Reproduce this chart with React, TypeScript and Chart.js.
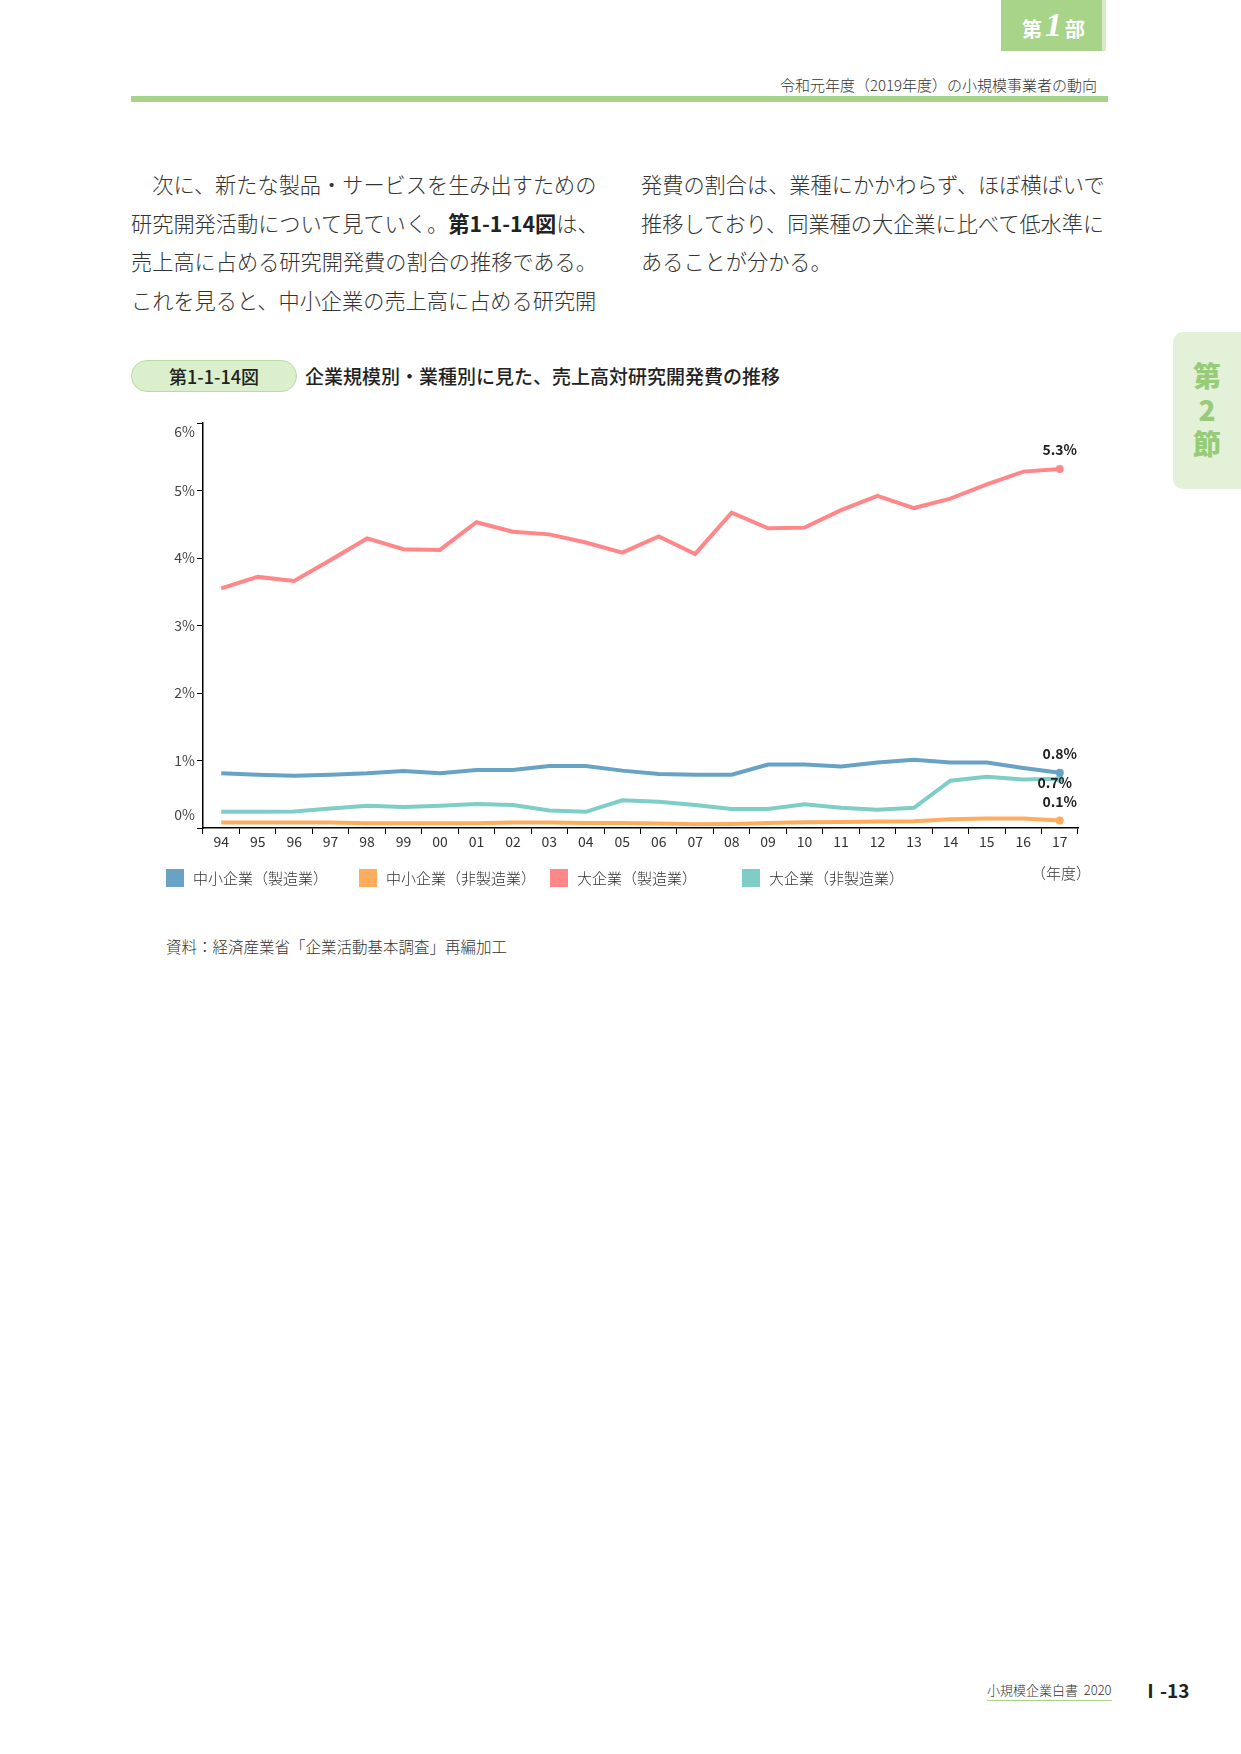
import React, { useEffect, useRef } from "react";
import { Chart, registerables } from "chart.js";

Chart.register(...registerables);

const FONT = '"Noto Sans CJK JP", "Noto Sans", sans-serif';

const years = ["94", "95", "96", "97", "98", "99", "00", "01", "02", "03", "04", "05", "06", "07", "08", "09", "10", "11", "12", "13", "14", "15", "16", "17"];
const smeMfg = [0.81, 0.79, 0.775, 0.79, 0.81, 0.845, 0.81, 0.86, 0.86, 0.92, 0.92, 0.85, 0.8, 0.79, 0.79, 0.94, 0.94, 0.91, 0.97, 1.01, 0.97, 0.97, 0.89, 0.82];
const smeNonMfg = [0.08, 0.08, 0.08, 0.08, 0.07, 0.07, 0.07, 0.07, 0.08, 0.08, 0.075, 0.075, 0.065, 0.055, 0.06, 0.075, 0.085, 0.09, 0.095, 0.1, 0.13, 0.14, 0.14, 0.11];
const largeMfg = [3.55, 3.72, 3.66, 3.97, 4.29, 4.13, 4.12, 4.53, 4.39, 4.35, 4.23, 4.08, 4.32, 4.06, 4.67, 4.44, 4.45, 4.71, 4.92, 4.74, 4.88, 5.09, 5.28, 5.32];
const largeNonMfg = [0.24, 0.24, 0.245, 0.29, 0.33, 0.31, 0.33, 0.355, 0.34, 0.26, 0.24, 0.41, 0.39, 0.34, 0.28, 0.28, 0.35, 0.3, 0.27, 0.3, 0.7, 0.76, 0.72, 0.73];
const seriesNames = ["中小企業（製造業）", "中小企業（非製造業）", "大企業（製造業）", "大企業（非製造業）"];
const endLabels = ["0.8%", "0.1%", "5.3%", "0.7%"];
const yTicks = [0, 1, 2, 3, 4, 5, 6];

const COLORS = ["#68a2c5", "#ffad5c", "#ff878a", "#7ecdc7"];

const customLabels = {
  id: "customLabels",
  afterDraw(chart: any) {
    const ctx = chart.ctx;
    const ys = chart.scales.y;
    ctx.save();
    ctx.font = `14px ${FONT}`;
    ctx.fillStyle = "#444";
    ctx.textAlign = "right";
    ctx.textBaseline = "middle";
    yTicks.forEach((v) => {
      let py = ys.getPixelForValue(v);
      if (v === yTicks[yTicks.length - 1]) py += 9;
      if (v === yTicks[0]) py -= 13;
      ctx.fillText(v + "%", chart.chartArea.left - 8, py);
    });
    const offsets = [
      [0, -19],
      [0, -19],
      [0, -19],
      [-5, 4],
    ];
    ctx.font = `bold 14px ${FONT}`;
    ctx.fillStyle = "#222";
    ctx.textAlign = "center";
    chart.data.datasets.forEach((_ds: any, i: number) => {
      const meta = chart.getDatasetMeta(i);
      const pt = meta.data[meta.data.length - 1];
      ctx.fillText(endLabels[i], pt.x + offsets[i][0], pt.y + offsets[i][1]);
    });
    ctx.restore();
  },
};

function LineChart() {
  const ref = useRef<HTMLCanvasElement | null>(null);
  useEffect(() => {
    if (!ref.current) return;
    const series = [smeMfg, smeNonMfg, largeMfg, largeNonMfg];
    const last = years.length - 1;
    const chart = new Chart(ref.current, {
      type: "line",
      data: {
        labels: years,
        datasets: series.map((d, i) => ({
          label: seriesNames[i],
          data: d,
          borderColor: COLORS[i],
          backgroundColor: COLORS[i],
          borderWidth: 4,
          tension: 0,
          pointRadius: d.map((_, j) => (j === last ? 4 : 0)),
          pointBorderWidth: 0,
          fill: false,
        })),
      },
      options: {
        animation: false,
        responsive: false,
        layout: { padding: { left: 0, top: 23, right: 22, bottom: 0 } },
        plugins: { legend: { display: false }, tooltip: { enabled: false } },
        scales: {
          x: {
            type: "category",
            offset: true,
            grid: { display: true, drawOnChartArea: false, drawTicks: true, tickLength: 6, color: "#000", offset: true },
            border: { display: true, color: "#000", width: 1.5 },
            ticks: { color: "#333", font: { size: 14, family: FONT }, padding: -1, maxRotation: 0, autoSkip: false },
            afterFit: (s: any) => {
              s.height = 52;
            },
          },
          y: {
            min: 0,
            max: 6,
            ticks: { stepSize: 1, display: false },
            grid: { display: true, drawOnChartArea: false, drawTicks: true, tickLength: 6, color: "#000" },
            border: { display: true, color: "#000", width: 1.5 },
            afterFit: (s: any) => {
              s.width = 63;
            },
          },
        },
      } as any,
      plugins: [customLabels],
    });
    return () => chart.destroy();
  }, []);
  return <canvas ref={ref} width={960} height={480} style={{ position: "absolute", left: 140, top: 400, width: 960, height: 480 }} />;
}

const abs = (s: React.CSSProperties): React.CSSProperties => ({ position: "absolute", ...s });

export default function App() {
  const bodyStyle: React.CSSProperties = { fontSize: 21.2, lineHeight: "38.5px", color: "#333", whiteSpace: "nowrap", fontWeight: 300 };
  const legendX = [166, 359, 550, 742];
  return (
    <div style={{ position: "absolute", left: 0, top: 0, width: 1241, height: 1754, background: "#fff", fontFamily: FONT, overflow: "hidden" }}>
      {/* top tab */}
      <div style={abs({ left: 1001, top: 0, width: 101, height: 51, background: "#a8d48a", borderRight: "4px solid #d4ebc4" })} />
      <div style={abs({ left: 1001, top: 6, width: 105, height: 44, display: "flex", alignItems: "center", justifyContent: "center", color: "#fff", fontWeight: 700 })}>
        <span style={{ fontSize: 20 }}>第</span>
        <span style={{ fontSize: 34, fontStyle: "italic", fontFamily: '"Liberation Serif", serif', margin: "0 3px", position: "relative", top: -3 }}>1</span>
        <span style={{ fontSize: 20 }}>部</span>
      </div>
      <div style={abs({ right: 1241 - 1097, top: 74, fontSize: 15, color: "#333", whiteSpace: "nowrap", fontWeight: 300 })}>令和元年度（2019年度）の小規模事業者の動向</div>
      <div style={abs({ left: 131, top: 96, width: 977, height: 6, background: "#a8d48a" })} />

      {/* side tab */}
      <div style={abs({ left: 1173, top: 332, width: 68, height: 157, background: "#e3f1d8", borderRadius: "10px 0 0 10px" })} />
      <div style={abs({ left: 1173, top: 358, width: 68, textAlign: "center", color: "#97cb78", fontWeight: 900, fontSize: 28, lineHeight: "34px" })}>
        <div>第</div>
        <div>2</div>
        <div>節</div>
      </div>

      {/* body text */}
      <div style={abs({ left: 131, top: 165, ...bodyStyle })}>
        <div>　次に、新たな製品・サービスを生み出すための</div>
        <div>
          研究開発活動について見ていく。<b style={{ color: "#222", fontWeight: 700 }}>第1-1-14図</b>は、
        </div>
        <div>売上高に占める研究開発費の割合の推移である。</div>
        <div>これを見ると、中小企業の売上高に占める研究開</div>
      </div>
      <div style={abs({ left: 641, top: 165, ...bodyStyle })}>
        <div>発費の割合は、業種にかかわらず、ほぼ横ばいで</div>
        <div>推移しており、同業種の大企業に比べて低水準に</div>
        <div>あることが分かる。</div>
      </div>

      {/* figure title */}
      <div style={abs({ left: 131, top: 360, width: 164, height: 30, borderRadius: 16, background: "#dcefcd", border: "1px solid #b9dca1", display: "flex", alignItems: "center", justifyContent: "center", fontSize: 18, fontWeight: 500, color: "#222" })}>第1-1-14図</div>
      <div style={abs({ left: 305, top: 363, fontSize: 19, fontWeight: 500, color: "#222", whiteSpace: "nowrap", lineHeight: "26px" })}>企業規模別・業種別に見た、売上高対研究開発費の推移</div>

      <LineChart />

      {/* legend */}
      {seriesNames.map((n, i) => (
        <React.Fragment key={n}>
          <div style={abs({ left: legendX[i], top: 869, width: 18, height: 18, background: COLORS[i] })} />
          <div style={abs({ left: legendX[i] + 27, top: 866, fontSize: 15, color: "#333", whiteSpace: "nowrap", lineHeight: "24px", fontWeight: 300 })}>{n}</div>
        </React.Fragment>
      ))}
      <div style={abs({ left: 1031, top: 861, fontSize: 15, color: "#333", whiteSpace: "nowrap", lineHeight: "24px", fontWeight: 300 })}>（年度）</div>

      <div style={abs({ left: 166, top: 934, fontSize: 15.5, color: "#333", whiteSpace: "nowrap", lineHeight: "24px", fontWeight: 300 })}>資料：経済産業省「企業活動基本調査」再編加工</div>

      {/* footer */}
      <div style={abs({ left: 987, top: 1680, fontSize: 13, color: "#333", whiteSpace: "nowrap", lineHeight: "20px", borderBottom: "1.5px solid #a8d48a", fontWeight: 300 })}>小規模企業白書&nbsp;&nbsp;2020</div>
      <div style={abs({ left: 1141, top: 1678, fontSize: 19, fontWeight: 700, color: "#222", whiteSpace: "nowrap", lineHeight: "24px" })}>Ⅰ-13</div>
    </div>
  );
}
